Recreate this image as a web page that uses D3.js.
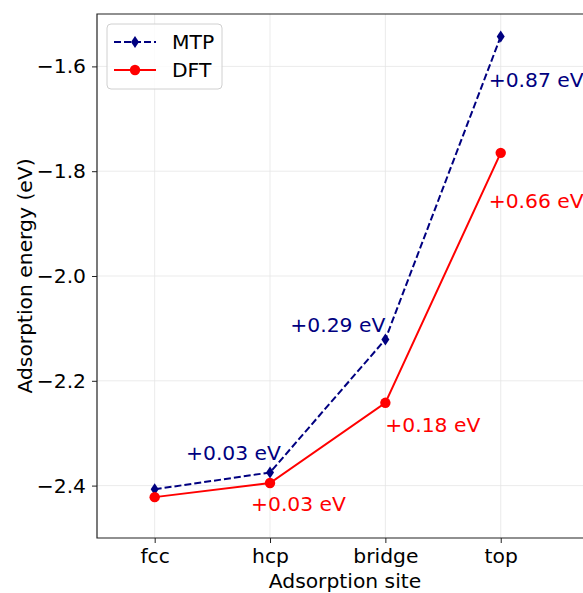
<!DOCTYPE html>
<html>
<head>
<meta charset="utf-8">
<script src="https://cdn.jsdelivr.net/npm/d3@7"></script>
<style>
  body { margin: 0; background: #fff; }
  text { font-family: "DejaVu Sans", sans-serif; }
</style>
</head>
<body>
<div id="chart"></div>
<script>
// Adsorption energies per site
var sites = ["fcc", "hcp", "bridge", "top"];
var mtpValues = [-2.407, -2.375, -2.121, -1.543];
var dftValues = [-2.422, -2.395, -2.242, -1.765];
var mtpLabels = ["", "+0.03 eV", "+0.29 eV", "+0.87 eV"];
var dftLabels = ["", "+0.03 eV", "+0.18 eV", "+0.66 eV"];
var yTicks = [-2.4, -2.2, -2.0, -1.8, -1.6];

var svgWidth = 583;
var svgHeight = 593;
var margin = { top: 14, right: -10, bottom: 55, left: 97 };
var width = svgWidth - margin.left - margin.right;
var height = svgHeight - margin.top - margin.bottom;
var fontSize = 20.3;
var navy = "#000080";
var red = "#ff0000";

var svg = d3.select("#chart")
  .append("svg")
  .attr("width", svgWidth)
  .attr("height", svgHeight);

var chartGroup = svg.append("g")
  .attr("transform", `translate(${margin.left}, ${margin.top})`);

// x is an index scale so the sites sit half a step in from the left spine
var xScale = d3.scaleLinear()
  .domain([-0.5, 3.8])
  .range([0, width]);

var yScale = d3.scaleLinear()
  .domain([-2.5, -1.5])
  .range([height, 0]);

// gridlines
chartGroup.append("g")
  .selectAll("line")
  .data(yTicks)
  .enter()
  .append("line")
  .attr("x1", 0)
  .attr("x2", width)
  .attr("y1", d => yScale(d))
  .attr("y2", d => yScale(d))
  .attr("stroke", "#e6e6e6")
  .attr("stroke-width", 0.8);

chartGroup.append("g")
  .selectAll("line")
  .data(sites)
  .enter()
  .append("line")
  .attr("x1", (d, i) => xScale(i))
  .attr("x2", (d, i) => xScale(i))
  .attr("y1", 0)
  .attr("y2", height)
  .attr("stroke", "#e6e6e6")
  .attr("stroke-width", 0.8);

// axes
var bottomAxis = d3.axisBottom(xScale)
  .tickValues(d3.range(sites.length))
  .tickFormat(i => sites[i])
  .tickSize(5)
  .tickPadding(6);

var leftAxis = d3.axisLeft(yScale)
  .tickValues(yTicks)
  .tickFormat(d3.format(".1f"))
  .tickSize(5)
  .tickPadding(6);

var xAxisG = chartGroup.append("g")
  .attr("transform", `translate(0, ${height})`)
  .call(bottomAxis);

var yAxisG = chartGroup.append("g")
  .call(leftAxis);

[xAxisG, yAxisG].forEach(function (g) {
  g.select(".domain").remove();
  g.selectAll(".tick line").attr("stroke", "#222").attr("stroke-width", 1);
  g.selectAll(".tick text")
    .attr("font-size", fontSize)
    .attr("fill", "#000")
    .style("font-family", "DejaVu Sans, sans-serif");
});
xAxisG.selectAll(".tick text").attr("dy", "0.68em");

// spines: left, top and bottom (right side runs past the picture)
chartGroup.append("path")
  .attr("d", `M${width},0H0V${height}H${width}`)
  .attr("fill", "none")
  .attr("stroke", "#222")
  .attr("stroke-width", 1.2);

// lines
var line = d3.line()
  .x((d, i) => xScale(i))
  .y(d => yScale(d));

chartGroup.append("path")
  .datum(mtpValues)
  .attr("d", line)
  .attr("fill", "none")
  .attr("stroke", navy)
  .attr("stroke-width", 2)
  .attr("stroke-dasharray", "7,3");

chartGroup.append("path")
  .datum(dftValues)
  .attr("d", line)
  .attr("fill", "none")
  .attr("stroke", red)
  .attr("stroke-width", 2);

// markers
var thinDiamond = "M0,-6L4,0L0,6L-4,0Z";

chartGroup.selectAll(".mtp-marker")
  .data(mtpValues)
  .enter()
  .append("path")
  .attr("class", "mtp-marker")
  .attr("d", thinDiamond)
  .attr("transform", (d, i) => `translate(${xScale(i)}, ${yScale(d)})`)
  .attr("fill", navy);

chartGroup.selectAll(".dft-marker")
  .data(dftValues)
  .enter()
  .append("circle")
  .attr("class", "dft-marker")
  .attr("cx", (d, i) => xScale(i))
  .attr("cy", d => yScale(d))
  .attr("r", 5.2)
  .attr("fill", red);

// energy-difference annotations, offsets in pixels from each point
var mtpOffsets = [[0, 0], [-84, -13], [-95, -7], [-12, 50]];
var dftOffsets = [[0, 0], [-19, 28], [0, 29], [-12, 55]];

function addLabels(values, labels, offsets, color) {
  values.forEach(function (v, i) {
    if (!labels[i]) return;
    chartGroup.append("text")
      .attr("x", xScale(i) + offsets[i][0])
      .attr("y", yScale(v) + offsets[i][1])
      .attr("font-size", fontSize)
      .attr("fill", color)
      .text(labels[i]);
  });
}
addLabels(mtpValues, mtpLabels, mtpOffsets, navy);
addLabels(dftValues, dftLabels, dftOffsets, red);

// axis titles
svg.append("text")
  .attr("x", margin.left + width / 2)
  .attr("y", 588)
  .attr("text-anchor", "middle")
  .attr("font-size", fontSize)
  .text("Adsorption site");

svg.append("text")
  .attr("transform", `translate(32, ${margin.top + height / 2}) rotate(-90)`)
  .attr("text-anchor", "middle")
  .attr("font-size", fontSize)
  .text("Adsorption energy (eV)");

// legend
var legend = svg.append("g")
  .attr("transform", "translate(107, 24)");

legend.append("rect")
  .attr("width", 115)
  .attr("height", 65)
  .attr("rx", 4)
  .attr("fill", "#fff")
  .attr("fill-opacity", 0.8)
  .attr("stroke", "#d0d0d0")
  .attr("stroke-width", 1);

var legendItems = [
  { name: "MTP", color: navy, dash: "7,3", marker: "diamond" },
  { name: "DFT", color: red, dash: null, marker: "circle" }
];

legendItems.forEach(function (item, i) {
  var y = 18 + i * 28;
  legend.append("line")
    .attr("x1", 7)
    .attr("x2", 49)
    .attr("y1", y)
    .attr("y2", y)
    .attr("stroke", item.color)
    .attr("stroke-width", 2)
    .attr("stroke-dasharray", item.dash);
  if (item.marker === "diamond") {
    legend.append("path")
      .attr("d", thinDiamond)
      .attr("transform", `translate(28, ${y})`)
      .attr("fill", item.color);
  } else {
    legend.append("circle")
      .attr("cx", 28)
      .attr("cy", y)
      .attr("r", 5.2)
      .attr("fill", item.color);
  }
  legend.append("text")
    .attr("x", 65)
    .attr("y", y + 7)
    .attr("font-size", fontSize)
    .text(item.name);
});
</script>
</body>
</html>
